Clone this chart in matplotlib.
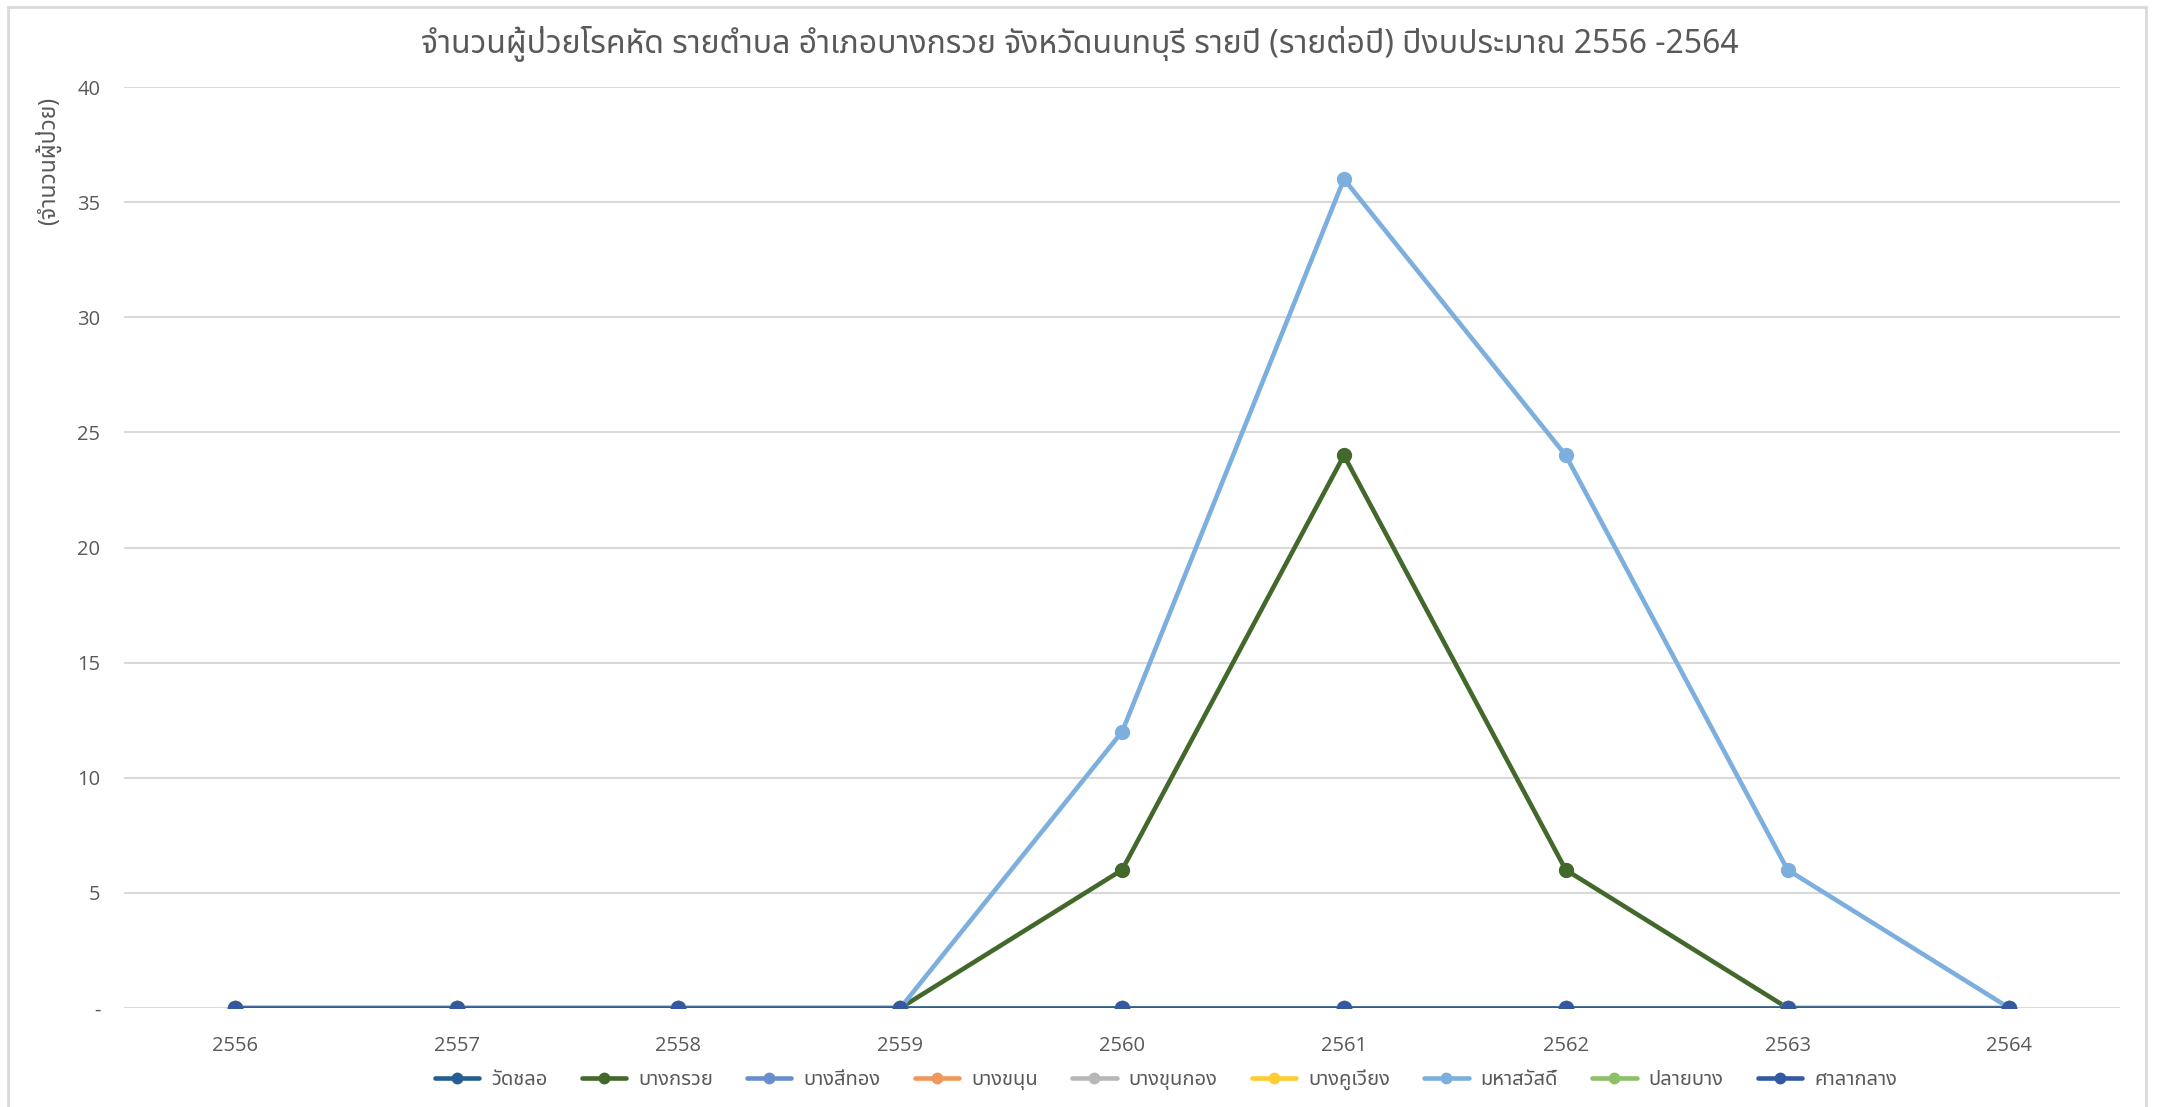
import matplotlib

matplotlib.use("Agg")

import matplotlib.pyplot as plt
from matplotlib.patches import Rectangle
from matplotlib.ticker import FuncFormatter, MultipleLocator


THAI_FONT = ["Noto Sans Thai", "Open Sans", "DejaVu Sans"]

years = [2556, 2557, 2558, 2559, 2560, 2561, 2562, 2563, 2564]
districts = [
    "วัดชลอ",
    "บางกรวย",
    "บางสีทอง",
    "บางขนุน",
    "บางขุนกอง",
    "บางคูเวียง",
    "มหาสวัสดิ์",
    "ปลายบาง",
    "ศาลากลาง",
]
wat_chalo = [0, 0, 0, 0, 0, 0, 0, 0, 0]
bang_kruai = [0, 0, 0, 0, 6, 24, 6, 0, 0]
bang_si_thong = [0, 0, 0, 0, 0, 0, 0, 0, 0]
bang_khanun = [0, 0, 0, 0, 0, 0, 0, 0, 0]
bang_khun_kong = [0, 0, 0, 0, 0, 0, 0, 0, 0]
bang_khu_wiang = [0, 0, 0, 0, 0, 0, 0, 0, 0]
maha_sawat = [0, 0, 0, 0, 12, 36, 24, 6, 0]
plai_bang = [0, 0, 0, 0, 0, 0, 0, 0, 0]
sala_klang = [0, 0, 0, 0, 0, 0, 0, 0, 0]
series = [
    wat_chalo,
    bang_kruai,
    bang_si_thong,
    bang_khanun,
    bang_khun_kong,
    bang_khu_wiang,
    maha_sawat,
    plai_bang,
    sala_klang,
]
colors = [
    "#255e91",
    "#43682b",
    "#698ed0",
    "#f1975a",
    "#b7b7b7",
    "#ffcd33",
    "#7cafdd",
    "#8cc168",
    "#335aa1",
]

TEXT_GRAY = "#595959"


def y_fmt(v, _pos):
    return "-" if v == 0 else f"{v:.0f}"


def main():
    plt.rcParams["font.family"] = THAI_FONT

    fig = plt.figure(figsize=(21.59, 11.07), dpi=100)
    ax = fig.add_axes([0.0574, 0.0894, 0.9247, 0.832])

    for name, values, color in zip(districts, series, colors):
        ax.plot(
            years,
            values,
            color=color,
            linewidth=3.3,
            marker="o",
            markersize=10,
            label=name,
            solid_capstyle="round",
        )

    ax.set_xlim(2555.5, 2564.5)
    ax.set_ylim(0, 40)
    ax.set_xticks(years)
    ax.set_xticklabels([str(y) for y in years])
    ax.yaxis.set_major_locator(MultipleLocator(5))
    ax.yaxis.set_major_formatter(FuncFormatter(y_fmt))
    ax.grid(axis="y", color="#d9d9d9", linewidth=1.5, zorder=0)
    ax.set_axisbelow(True)
    for spine in ax.spines.values():
        spine.set_visible(False)
    ax.tick_params(axis="both", length=0, labelsize=14.5, labelcolor=TEXT_GRAY)
    ax.tick_params(axis="x", pad=20)
    ax.tick_params(axis="y", pad=17)
    for lab in ax.get_xticklabels() + ax.get_yticklabels():
        lab.set_family(["Open Sans", "DejaVu Sans"])

    fig.text(
        0.0222,
        0.855,
        "(จำนวนผู้ป่วย)",
        rotation=90,
        ha="center",
        va="center",
        fontsize=16.5,
        color=TEXT_GRAY,
    )

    fig.suptitle(
        "จำนวนผู้ป่วยโรคหัด รายตำบล อำเภอบางกรวย จังหวัดนนทบุรี รายปี (รายต่อปี) ปีงบประมาณ 2556 -2564",
        y=0.96,
        va="center",
        fontsize=23,
        color=TEXT_GRAY,
    )

    ax.legend(
        loc="center",
        bbox_to_anchor=(0.54, 0.0244),
        bbox_transform=fig.transFigure,
        ncol=9,
        frameon=False,
        fontsize=14.5,
        labelcolor=TEXT_GRAY,
        handlelength=2.2,
        handletextpad=0.6,
        columnspacing=1.7,
        markerscale=0.75,
    )

    # chart area border, open at the bottom like the source screenshot
    fig.patches.append(
        Rectangle(
            (8 / 2159, -0.05),
            (2146 - 8) / 2159,
            1.05 - 7 / 1107,
            transform=fig.transFigure,
            fill=False,
            edgecolor="#d9d9d9",
            linewidth=2,
        )
    )

    fig.savefig("out.png", dpi=100)
    plt.close(fig)


if __name__ == "__main__":
    main()
